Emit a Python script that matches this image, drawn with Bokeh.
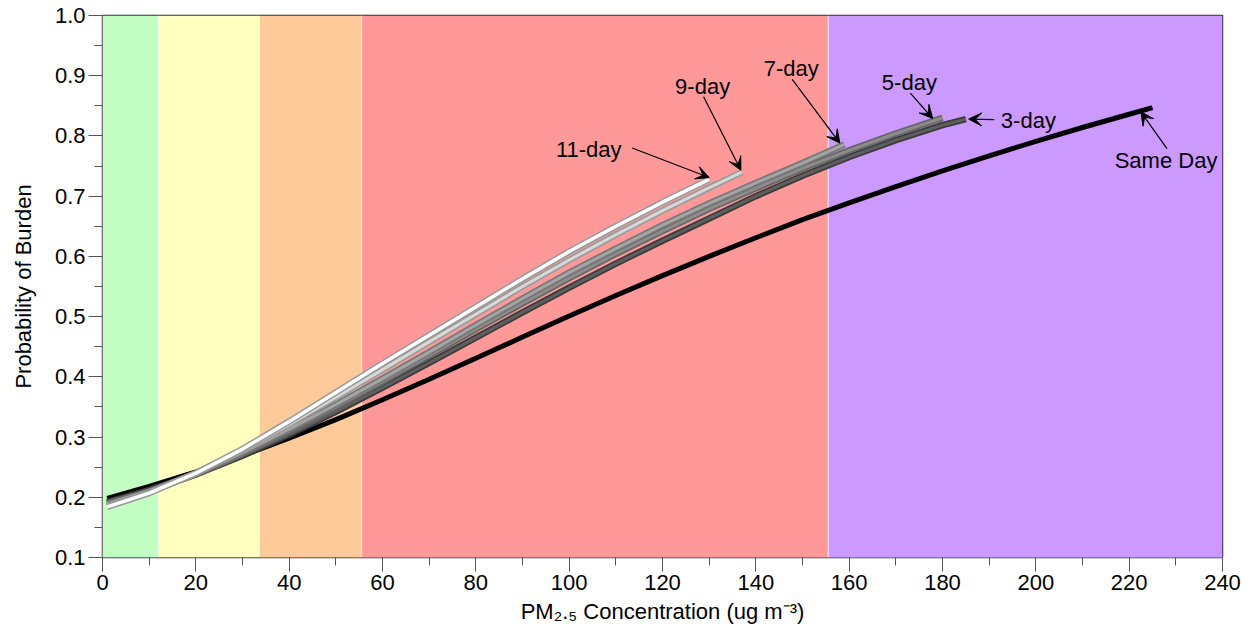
from bokeh.plotting import figure
from bokeh.models import (Range1d, SingleIntervalTicker, NumeralTickFormatter,
                          Arrow, VeeHead)
from bokeh.core.properties import value
from bokeh.embed import file_html
from bokeh.resources import INLINE

# ---------------- data ----------------
band_edges = [0, 12, 33.6, 55.5, 155.5, 240]
band_colors = ["#C3FFC3", "#FFFFC0", "#FFCA99", "#FF9999", "#CC99FF"]

same_x = [1, 10, 20, 30, 40, 50, 60, 70, 80, 90, 100, 110, 120, 130, 140, 150, 160, 170, 180, 190, 200, 210, 220, 225]
same_y = [0.198, 0.218, 0.242, 0.269, 0.298, 0.329, 0.362, 0.396, 0.431, 0.466, 0.501, 0.535, 0.568, 0.600, 0.631, 0.661, 0.689, 0.716, 0.742, 0.767, 0.791, 0.814, 0.836, 0.847]

d3_x = [1, 10, 20, 30, 40, 50, 60, 70, 80, 90, 100, 110, 120, 130, 140, 150, 160, 170, 180, 185]
d3_y = [0.192, 0.212, 0.238, 0.269, 0.304, 0.342, 0.382, 0.423, 0.465, 0.507, 0.548, 0.588, 0.626, 0.663, 0.700, 0.734, 0.765, 0.793, 0.818, 0.828]

d5_x = [1, 10, 20, 30, 40, 50, 60, 70, 80, 90, 100, 110, 120, 130, 140, 150, 160, 170, 180]
d5_y = [0.190, 0.210, 0.238, 0.272, 0.310, 0.350, 0.392, 0.435, 0.479, 0.522, 0.564, 0.604, 0.642, 0.679, 0.713, 0.746, 0.776, 0.804, 0.830]

d7_x = [1, 10, 20, 30, 40, 50, 60, 70, 80, 90, 100, 110, 120, 130, 140, 150, 159]
d7_y = [0.188, 0.209, 0.239, 0.274, 0.313, 0.354, 0.397, 0.441, 0.486, 0.530, 0.573, 0.613, 0.652, 0.688, 0.722, 0.755, 0.786]

d9_x = [1, 10, 20, 30, 40, 50, 60, 70, 80, 90, 100, 110, 120, 130, 137]
d9_y = [0.186, 0.208, 0.240, 0.278, 0.321, 0.366, 0.412, 0.458, 0.504, 0.550, 0.594, 0.636, 0.676, 0.714, 0.740]

d11_x = [1, 10, 20, 30, 40, 50, 60, 70, 80, 90, 100, 110, 120, 130]
d11_y = [0.184, 0.207, 0.240, 0.280, 0.326, 0.374, 0.422, 0.469, 0.516, 0.563, 0.608, 0.650, 0.690, 0.728]

series_names = ["Same Day", "3-day", "5-day", "7-day", "9-day", "11-day"]
label_x = [227.9, 198.4, 172.9, 147.6, 128.6, 104.2]
label_y = [0.760, 0.825, 0.888, 0.912, 0.882, 0.777]
arrow_x0 = [228.1, 191.1, 173.1, 147.8, 128.8, 113.5]
arrow_y0 = [0.779, 0.827, 0.871, 0.894, 0.865, 0.780]
arrow_x1 = [222.5, 185.6, 177.9, 158.0, 136.8, 130.0]
arrow_y1 = [0.840, 0.828, 0.829, 0.788, 0.743, 0.731]

x_title = "PM\u2082.\u2085 Concentration (ug m\u207b\u00b3)"
y_title = "Probability of Burden"

FONT = "Liberation Sans"

# ---------------- figure ----------------
p = figure(width=1248, height=630, output_backend="svg", toolbar_location=None,
           x_range=Range1d(0, 240), y_range=Range1d(0.1, 1.0),
           min_border_left=102, min_border_right=26, min_border_top=15, min_border_bottom=73)
p.grid.visible = False
p.background_fill_color = "white"
p.outline_line_color = "#333333"
p.outline_line_width = 1.5

# bands
p.quad(left=band_edges[:-1], right=band_edges[1:], bottom=0.1, top=1.0,
       fill_color=band_colors, line_color=None)
p.segment(x0=band_edges[1:-1], x1=band_edges[1:-1], y0=0.1, y1=1.0,
          line_color="white", line_alpha=0.6, line_width=1.2)

# curves (tube look: dark rim + light core)
styles = [
    (same_x, same_y, "#000000", "#000000", 5.0, 0),
    (d3_x, d3_y, "#3c3c3c", "#5e5e5e", 6.5, 3.0),
    (d5_x, d5_y, "#666666", "#8c8c8c", 6.5, 3.0),
    (d7_x, d7_y, "#777777", "#a4a4a4", 6.5, 3.0),
    (d9_x, d9_y, "#9c9c9c", "#d8d8d8", 6.5, 3.0),
    (d11_x, d11_y, "#999999", "#ffffff", 6.5, 3.5),
]
for xs, ys, rim, core, w_out, w_in in styles:
    p.line(xs, ys, line_color=rim, line_width=w_out)
    if w_in:
        p.line(xs, ys, line_color=core, line_width=w_in)

# annotations
p.text(x=label_x, y=label_y, text=series_names, text_align="center", text_baseline="middle",
       text_font=value(FONT), text_font_size="22px", text_color="black")
for xa, ya, xb, yb in zip(arrow_x0, arrow_y0, arrow_x1, arrow_y1):
    p.add_layout(Arrow(x_start=xa, y_start=ya, x_end=xb, y_end=yb, line_width=1.2,
                       line_color="black",
                       end=VeeHead(size=13, fill_color="black", line_color="black")))

# axes
for ax in (p.xaxis[0], p.yaxis[0]):
    ax.axis_line_color = "#7a7a7a"
    ax.major_tick_line_color = "#555555"
    ax.minor_tick_line_color = "#555555"
    ax.major_tick_out = 14
    ax.major_tick_in = 0
    ax.minor_tick_out = 8
    ax.minor_tick_in = 0
    ax.major_label_text_font = FONT
    ax.major_label_text_font_size = "22px"
    ax.major_label_text_color = "black"
    ax.major_label_standoff = 3
    ax.axis_label_text_font = FONT
    ax.axis_label_text_font_size = "22px"
    ax.axis_label_text_font_style = "normal"
    ax.axis_label_text_color = "black"

p.xaxis.ticker = SingleIntervalTicker(interval=20, num_minor_ticks=2)
p.yaxis.ticker = SingleIntervalTicker(interval=0.1, num_minor_ticks=2)
p.yaxis.formatter = NumeralTickFormatter(format="0.0")
p.yaxis.axis_label = y_title
p.yaxis.axis_label_standoff = 16
p.xaxis.axis_label = x_title
p.xaxis.axis_label_standoff = 6

open("out.html", "w").write(file_html(p, INLINE))
